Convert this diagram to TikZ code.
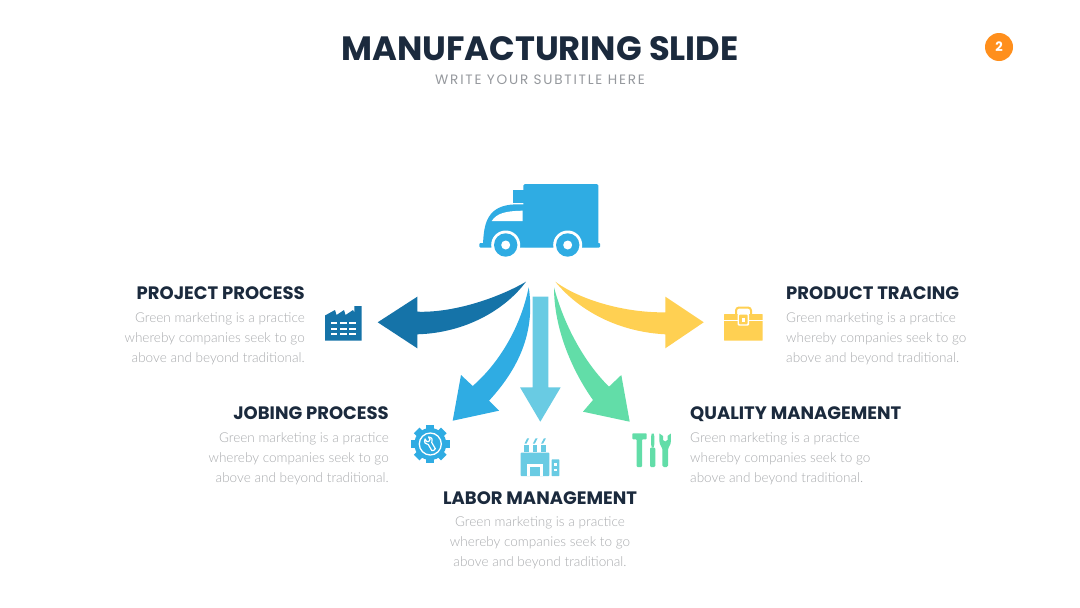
\documentclass[tikz,border=0pt]{standalone}
\usepackage{fontspec}
\setmainfont{Poppins}
\newfontfamily\lightfont{Lato Light}
\definecolor{ink}{HTML}{1B2A3D}
\definecolor{subgray}{HTML}{96999E}
\definecolor{bodygray}{HTML}{A9ABAE}
\definecolor{dblue}{HTML}{1573A8}
\definecolor{mblue}{HTML}{2FACE3}
\definecolor{lblue}{HTML}{69CBE3}
\definecolor{mint}{HTML}{62DDA8}
\definecolor{sun}{HTML}{FFD052}
\definecolor{badge}{HTML}{FF8F1C}
\tikzset{
  head/.style={inner sep=0pt,text=ink,font=\fontsize{18}{20}\selectfont\bfseries},
  bodyl/.style={inner sep=0pt,text=bodygray,align=right,font=\lightfont\fontsize{13.55}{20}\selectfont},
  bodyr/.style={inner sep=0pt,text=bodygray,align=left,font=\lightfont\fontsize{13.55}{20}\selectfont},
  bodyc/.style={inner sep=0pt,text=bodygray,align=center,font=\lightfont\fontsize{13.55}{20}\selectfont},
}
\newcommand{\blurb}{Green marketing is a practice\\whereby companies seek to go\\above and beyond traditional.}
\begin{document}
\begin{tikzpicture}[x=1pt,y=-1pt]
\useasboundingbox (0,0) rectangle (1080,608);
\fill[white] (0,0) rectangle (1080,608);
% titles
\node[inner sep=0pt,text=ink,font=\fontsize{33.7}{38}\selectfont\bfseries] (title) at (540,49) {MANUFACTURING SLIDE};
\node[inner sep=0pt,text=subgray,font=\fontsize{13.6}{16}\selectfont\addfontfeatures{LetterSpace=13}] (subtitle) at (540,79.5) {WRITE YOUR SUBTITLE HERE};
\node[circle,fill=badge,minimum size=28pt,inner sep=0pt,text=white,font=\fontsize{13}{15}\selectfont\bfseries] (badge) at (999,47) {2};
% truck
\fill[mblue,rounded corners=1.5pt] (523.3,184) rectangle (598.3,247);
\fill[mblue] (513.3,190) rectangle (524,203.2);
\fill[mblue,rounded corners=1pt] (479.3,243) rectangle (600,247.5);
\fill[mblue] (483,244) .. controls (484,225) and (486,205) .. (516,204.3) -- (524,204.3) -- (524,247) -- cycle;
\fill[white] (491.7,221) .. controls (497,213) and (506,211) .. (522.5,210.7) -- (522.5,221) -- cycle;
\foreach \cx in {505.7,567.7}{
  \fill[white] (\cx,245) circle (14.5);
  \fill[mblue] (\cx,245) circle (11.7);
  \fill[white] (\cx,245) circle (4.5);
}
% arrows
\fill[dblue] (526,281.7) .. controls (500,297) and (455,313) .. (417.3,311.7)
  -- (417.3,296.7) -- (377.7,322.3) -- (417.3,348.3) -- (417.3,334.3)
  .. controls (465,333) and (505,310) .. cycle;
\fill[mblue] (528.7,287.3) .. controls (535,328) and (522,365) .. (489,400.7)
  -- (499,410.7) -- (452.7,420.7) -- (461,375) -- (472.7,386)
  .. controls (497,365) and (520,330) .. cycle;
\fill[lblue] (532.7,296.7) -- (548.3,296.7) -- (548.3,387.3) -- (560.7,387.3) -- (540.3,421.7) -- (520,387.3) -- (532.7,387.3) -- cycle;
\fill[mint] (554,287.3) .. controls (554,330) and (573,372) .. (593,400)
  -- (583,411.7) -- (629.7,421.7) -- (621.3,375) -- (609,386.7)
  .. controls (584,362) and (564,325) .. cycle;
\fill[sun] (555.3,281.7) .. controls (580,300) and (625,313) .. (665.3,312.3)
  -- (665.3,296.7) -- (703.7,322.3) -- (665.3,348.3) -- (665.3,334.3)
  .. controls (620,332) and (580,312) .. cycle;
% factory icon, dark
\fill[dblue] (325,340.7) -- (325,315.5) -- (335,310) -- (336.5,315) -- (344,310) -- (345.5,315) -- (353,310) -- (354.3,312.5) -- (354.3,306) -- (361.7,306) -- (361.7,340.7) -- cycle;
\foreach \yy in {323.3,328.6,333.9}{
  \foreach \xa/\xb in {331/337.3,340/346.7,349.3/356}{
    \fill[white] (\xa,\yy-1.1) rectangle (\xb,\yy+1.1);
  }
}
% briefcase
\draw[sun,line width=2pt,rounded corners=3pt] (736,316) -- (736,307.5) -- (751,307.5) -- (751,316);
\fill[sun,rounded corners=0.5pt] (724,314) rectangle (762.7,340.7);
\fill[white] (724,320.2) rectangle (762.7,321.4);
\fill[white,rounded corners=1pt] (737.6,313.5) rectangle (749,325.5);
\fill[sun,rounded corners=1pt] (739,314.5) rectangle (747.6,324.3);
\fill[white] (742,317.5) rectangle (744.6,321.5);
% gear
\fill[mblue] (430.3,444) circle (16);
\foreach \a in {0,45,...,315}{
  \fill[mblue,rotate around={\a:(430.3,444)}] (426.3,424.8) rectangle (434.3,432);
}
\draw[white,line width=1.3pt] (430.3,444) circle (11);
\begin{scope}[shift={(430.3,444)},rotate=30]
\draw[white,line width=1.2pt,line join=round] (-2,-7) .. controls (-5,-5) and (-4.5,-1.5) .. (-2,-0.5) -- (-2,6.5) .. controls (-1,7.5) and (1,7.5) .. (2,6.5) -- (2,-0.5) .. controls (4.5,-1.5) and (5,-5) .. (2,-7) -- (2,-4) -- (0,-3) -- (-2,-4) -- cycle;
\end{scope}
% factory icon, light
\fill[lblue,rounded corners=0.8pt] (520.7,476) -- (520.7,452.7) -- (549.3,452.7) -- (549.3,476) -- cycle;
\fill[lblue,rounded corners=0.5pt] (551.7,459.3) rectangle (559.3,476);
\fill[white] (553.8,463) rectangle (557.2,465.5);
\fill[white] (553.8,468.5) rectangle (557.2,471);
\fill[white] (527.3,464) rectangle (542.7,476);
\fill[lblue] (530,466.7) rectangle (540,476);
\foreach \sx in {524.3,532.7,541}{
  \fill[lblue] (\sx,451.7) rectangle (\sx+4.7,445);
  \fill[lblue] (\sx+0.2,443.5) -- (\sx+2.9,438.3) -- (\sx+4.9,438.3) -- (\sx+2.2,443.5) -- cycle;
}
% tools
\fill[mint,rounded corners=0.8pt] (632.3,433.3) -- (646.7,433.3) -- (646.7,439.3) -- (642,439.3) -- (642,467) -- (636.7,467) -- (636.7,439.3) -- (632.3,439.3) -- cycle;
\fill[mint,rounded corners=1.2pt] (650,447.5) rectangle (655.4,467);
\fill[mint] (651.7,433.5) -- (653.7,433.5) -- (654.4,437) -- (654.4,444) -- (653.6,447.5) -- (651.8,447.5) -- (651,444) -- (651,437) -- cycle;
\fill[mint,rounded corners=1.5pt] (662.4,446) rectangle (668,467);
\fill[mint] (659.4,433.5) -- (659.4,441) .. controls (659.4,445) and (662,447) .. (662.4,449) -- (668,449) .. controls (668.4,447) and (670.9,445) .. (670.9,441) -- (670.9,433.5) -- (667.5,436) -- (667.5,440) -- (665.2,441.5) -- (663,440) -- (663,436) -- cycle;
% labels
\node[head,anchor=base east] (h1) at (305,299.8) {PROJECT PROCESS};
\node[bodyl,anchor=east] (b1) at (305,338.4) {\blurb};
\node[head,anchor=base east] (h2) at (389,419.6) {JOBING PROCESS};
\node[bodyl,anchor=east] (b2) at (389,459) {\blurb};
\node[head,anchor=base] (h3) at (540,504.6) {LABOR MANAGEMENT};
\node[bodyc] (b3) at (540,543) {\blurb};
\node[head,anchor=base west] (h4) at (690,419.6) {QUALITY MANAGEMENT};
\node[bodyr,anchor=west] (b4) at (690,459) {\blurb};
\node[head,anchor=base west] (h5) at (786,299.8) {PRODUCT TRACING};
\node[bodyr,anchor=west] (b5) at (786,338.4) {\blurb};
\end{tikzpicture}
\end{document}
